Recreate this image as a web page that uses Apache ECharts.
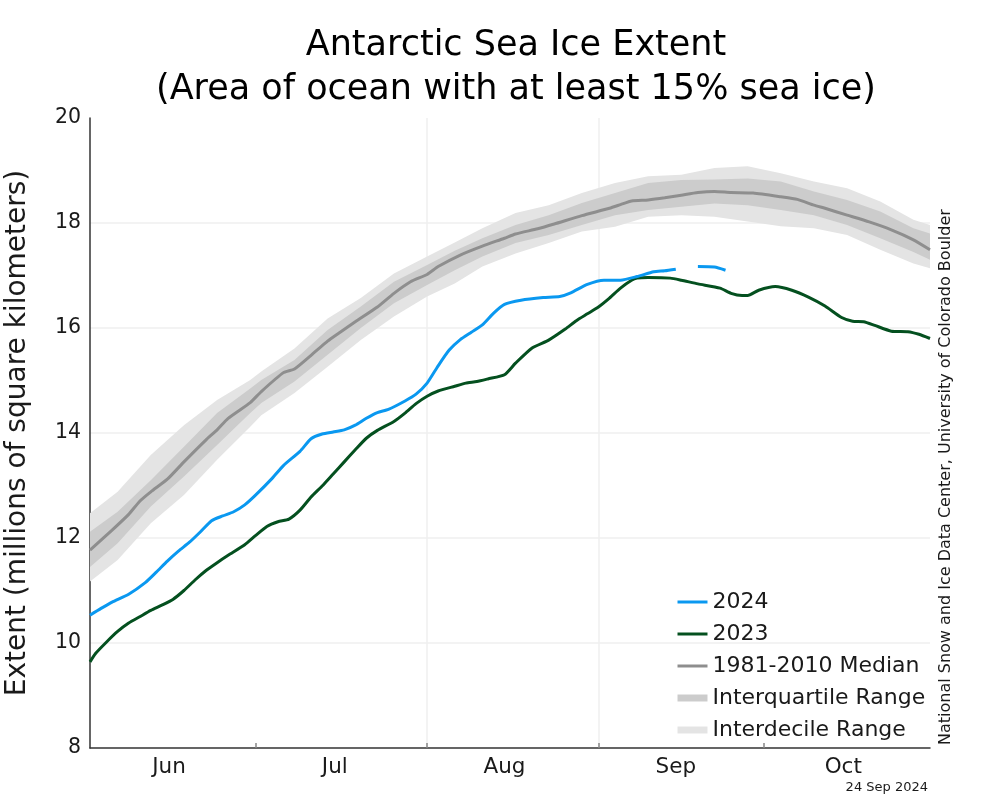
<!DOCTYPE html>
<html>
<head>
<meta charset="utf-8">
<script src="https://cdn.jsdelivr.net/npm/echarts@6/dist/echarts.min.js"></script>
<style>html,body{margin:0;padding:0;background:#fff;}#c{width:987px;height:811px;}</style>
</head>
<body>
<div id="c"></div>
<script>
// x = days since 1 June
const monthNames = ['Jun', 'Jul', 'Aug', 'Sep', 'Oct'];
const monthLabelDays = [14.3, 44.3, 75, 106, 136.3];
const monthStartDays = [30, 61, 92, 122];
const yTicks = [8, 10, 12, 14, 16, 18, 20];

const ext2024 = [[0,10.53],[2,10.66],[4,10.78],[7,10.93],[10,11.15],[12,11.35],[14,11.56],[16,11.75],[18,11.92],[20,12.12],[22,12.33],[24,12.42],[26,12.50],[28,12.63],[30,12.82],[33,13.14],[35,13.38],[38,13.65],[40,13.89],[42,13.98],[44,14.02],[46,14.06],[48,14.15],[50,14.28],[52,14.39],[54,14.45],[57,14.61],[59,14.74],[61,14.95],[63,15.28],[65,15.58],[67,15.78],[69,15.92],[71,16.06],[73,16.28],[75,16.45],[78,16.53],[82,16.58],[85,16.60],[87,16.67],[90,16.83],[93,16.91],[96,16.91],[99,16.98],[102,17.07],[104,17.09],[106,17.12],[108,'-'],[110,17.17],[113,17.16],[115,17.10]];

const ext2023 = [[0,9.64],[1,9.80],[3,10.02],[5,10.22],[7,10.38],[9,10.50],[11,10.62],[13,10.72],[15,10.83],[17,11.0],[19,11.2],[21,11.38],[23,11.53],[25,11.67],[28,11.87],[30,12.05],[32,12.22],[34,12.31],[36,12.36],[38,12.53],[40,12.78],[42,12.99],[44,13.22],[46,13.45],[48,13.68],[50,13.90],[52,14.05],[55,14.22],[57,14.38],[59,14.56],[61,14.70],[63,14.80],[66,14.89],[68,14.95],[70,14.98],[72,15.03],[75,15.11],[77,15.33],[80,15.62],[83,15.77],[86,15.98],[88,16.14],[90,16.27],[92,16.40],[94,16.57],[96,16.76],[98,16.91],[99,16.95],[101,16.96],[105,16.95],[107,16.91],[110,16.84],[114,16.76],[116,16.66],[118,16.62],[119,16.62],[121,16.72],[124,16.79],[127,16.72],[130,16.59],[133,16.42],[136,16.20],[138,16.13],[140,16.12],[142,16.05],[145,15.94],[148,15.93],[150,15.88],[152,15.80]];

const median = [[0,11.77],[4,12.15],[7,12.45],[9,12.70],[11,12.88],[14,13.12],[17,13.45],[21,13.87],[23,14.06],[25,14.28],[29,14.58],[31,14.79],[35,15.15],[37,15.22],[40,15.48],[43,15.75],[45,15.90],[48,16.12],[52,16.40],[55,16.66],[58,16.88],[61,17.02],[63,17.17],[67,17.39],[71,17.56],[75,17.71],[77,17.79],[81,17.89],[84,17.98],[89,18.14],[94,18.28],[96,18.35],[98,18.42],[101,18.44],[104,18.48],[107,18.53],[110,18.58],[113,18.60],[116,18.58],[120,18.57],[125,18.50],[128,18.45],[131,18.34],[133,18.28],[137,18.15],[141,18.02],[145,17.87],[149,17.68],[152,17.49]];

const bandDays = [0,5,11,17,23,29,31,37,43,49,55,61,66,71,77,83,89,95,101,107,113,119,125,131,137,143,149,152];
const idrUpper = [12.47,12.88,13.58,14.15,14.63,15.01,15.17,15.61,16.18,16.57,17.04,17.36,17.63,17.90,18.19,18.34,18.57,18.76,18.89,18.92,19.05,19.08,18.95,18.79,18.66,18.41,18.06,17.96];
const iqrUpper = [12.12,12.50,13.10,13.74,14.38,14.85,15.01,15.39,15.96,16.41,16.88,17.20,17.47,17.71,17.96,18.15,18.38,18.57,18.76,18.82,18.83,18.85,18.79,18.60,18.44,18.22,17.90,17.80];
const iqrLower = [11.45,11.90,12.60,13.17,13.77,14.38,14.57,14.98,15.49,16.0,16.47,16.82,17.10,17.36,17.62,17.77,17.96,18.15,18.25,18.31,18.37,18.34,18.25,18.15,17.96,17.71,17.45,17.30];
const idrLower = [11.17,11.58,12.28,12.82,13.49,14.12,14.34,14.76,15.26,15.77,16.22,16.60,16.85,17.17,17.42,17.62,17.84,17.93,18.12,18.15,18.12,18.03,17.94,17.90,17.77,17.49,17.23,17.14];

const FONT = 'DejaVu Sans';
const C2024 = '#0a98f0', C2023 = '#04501f', CMED = '#8e8e8e', CIQR = '#cccccc', CIDR = '#e4e4e4';

function bandSeries(name, upper, lower, color) {
  return {
    type: 'custom', id: name, silent: true, z: 1,
    data: [[bandDays[0], lower[0]]],
    renderItem: function (params, api) {
      const pts = [];
      for (let i = 0; i < bandDays.length; i++) pts.push(api.coord([bandDays[i], upper[i]]));
      for (let i = bandDays.length - 1; i >= 0; i--) pts.push(api.coord([bandDays[i], lower[i]]));
      return { type: 'polygon', shape: { points: pts }, style: { fill: color } };
    }
  };
}

function legendItem(name, color, width) {
  return { name: name, itemStyle: { opacity: 0 }, lineStyle: { color: color, width: width, opacity: 1 } };
}

const chart = echarts.init(document.getElementById('c'));
chart.setOption({
  animation: false,
  backgroundColor: '#fff',
  textStyle: { fontFamily: FONT },
  title: {
    text: 'Antarctic Sea Ice Extent\n(Area of ocean with at least 15% sea ice)',
    left: 511, top: 19, textAlign: 'center',
    textStyle: { fontFamily: FONT, fontSize: 35, fontWeight: 'normal', color: '#000', lineHeight: 44 }
  },
  grid: { left: 90, right: 57, top: 118, bottom: 63, outerBoundsMode: 'none', containLabel: false },
  legend: {
    orient: 'vertical', left: 674, top: 590, padding: 0,
    itemWidth: 30, itemHeight: 14, itemGap: 8,
    textStyle: { fontFamily: FONT, fontSize: 22, color: '#1a1a1a', lineHeight: 24 },
    data: [
      legendItem('2024', C2024, 3),
      legendItem('2023', C2023, 3),
      legendItem('1981-2010 Median', CMED, 3),
      legendItem('Interquartile Range', CIQR, 7),
      legendItem('Interdecile Range', CIDR, 7)
    ]
  },
  xAxis: {
    type: 'value', min: 0, max: 152,
    axisLine: { show: true, lineStyle: { color: '#333', width: 1.5 } },
    axisTick: { show: true, inside: true, length: 5, customValues: monthStartDays, lineStyle: { color: '#888', width: 1.5 } },
    axisLabel: {
      customValues: monthLabelDays, margin: 8,
      fontFamily: FONT, fontSize: 21.5, color: '#1a1a1a',
      formatter: function (v) { const i = monthLabelDays.indexOf(v); return i >= 0 ? monthNames[i] : ''; }
    },
    splitLine: { show: true, showMinLine: false, showMaxLine: false, lineStyle: { color: '#efefef', width: 1.5 } }
  },
  yAxis: {
    type: 'value', min: yTicks[0], max: yTicks[yTicks.length - 1], interval: 2,
    name: 'Extent (millions of square kilometers)', nameLocation: 'middle', nameGap: 58, nameRotate: 90,
    nameTextStyle: { fontFamily: FONT, fontSize: 28, color: '#1a1a1a' },
    axisLine: { show: true, lineStyle: { color: '#333', width: 1.5 } },
    axisTick: { show: false },
    axisLabel: { margin: 9, fontFamily: FONT, fontSize: 20.5, color: '#1a1a1a' },
    splitLine: { show: true, showMinLine: false, showMaxLine: false, lineStyle: { color: '#efefef', width: 1.5 } }
  },
  graphic: [
    { type: 'text', x: 946, y: 745, rotation: Math.PI / 2,
      style: { text: 'National Snow and Ice Data Center, University of Colorado Boulder', font: '16px "DejaVu Sans"', fill: '#1a1a1a', textAlign: 'left', textVerticalAlign: 'middle' } },
    { type: 'text', x: 928, y: 788,
      style: { text: '24 Sep 2024', font: '13px "DejaVu Sans"', fill: '#1a1a1a', textAlign: 'right', textVerticalAlign: 'middle' } }
  ],
  series: [
    bandSeries('idrBand', idrUpper, idrLower, CIDR),
    bandSeries('iqrBand', iqrUpper, iqrLower, CIQR),
    { name: '1981-2010 Median', type: 'line', data: median, showSymbol: false, symbol: 'none', smooth: 0.2, z: 3,
      lineStyle: { color: CMED, width: 3 }, itemStyle: { color: CMED } },
    { name: '2023', type: 'line', data: ext2023, showSymbol: false, symbol: 'none', smooth: 0.2, z: 4,
      lineStyle: { color: C2023, width: 3 }, itemStyle: { color: C2023 } },
    { name: '2024', type: 'line', data: ext2024, showSymbol: false, symbol: 'none', smooth: 0.2, z: 5, connectNulls: false,
      lineStyle: { color: C2024, width: 3 }, itemStyle: { color: C2024 } },
    { name: 'Interquartile Range', type: 'line', data: [], symbol: 'none', lineStyle: { color: CIQR, width: 7 }, itemStyle: { color: CIQR } },
    { name: 'Interdecile Range', type: 'line', data: [], symbol: 'none', lineStyle: { color: CIDR, width: 7 }, itemStyle: { color: CIDR } }
  ]
});
</script>
</body>
</html>
